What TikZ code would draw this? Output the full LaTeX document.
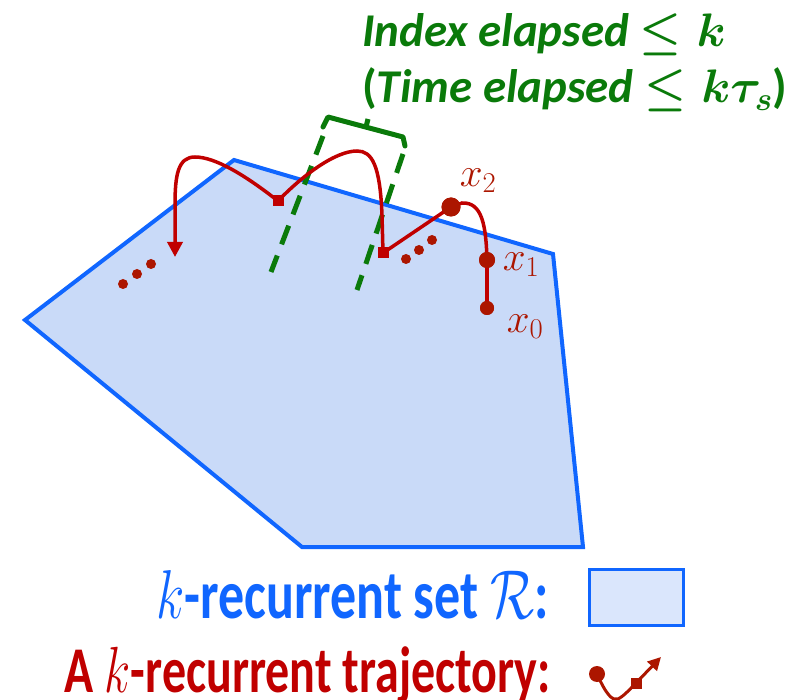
\RequirePackage{fix-cm}
\documentclass[tikz,border=0pt]{standalone}
\usepackage{amsmath,amssymb}
\usepackage{graphicx}
\usepackage{fontspec}
\setmainfont{Carlito}
\usetikzlibrary{arrows.meta}
\definecolor{polyfill}{RGB}{201,218,248}
\definecolor{legfill}{RGB}{218,230,252}
\definecolor{polyblue}{RGB}{16,102,255}
\definecolor{trajred}{RGB}{192,0,0}
\definecolor{dotred}{RGB}{172,22,0}
\definecolor{grn}{RGB}{10,122,10}
\begin{document}
\begin{tikzpicture}[x=1pt,y=-1pt,
  region/.style={draw=polyblue,fill=polyfill,line width=4pt,line join=miter},
  traj/.style={draw=trajred,line width=3.5pt},
  dotnode/.style={circle,fill=dotred,inner sep=0pt},
  sqnode/.style={rectangle,fill=trajred,inner sep=0pt,minimum size=11pt},
  lbl/.style={text=dotred,font=\fontsize{41}{46}\selectfont},
  grline/.style={draw=grn,line width=5pt},
  grdash/.style={draw=grn,line width=5pt,dash pattern=on 20pt off 12pt},
  ttl/.style={text=grn,font=\fontsize{47}{56}\selectfont\bfseries\itshape,anchor=base west,inner sep=0pt},
  leg/.style={font=\bfseries,anchor=base east,inner sep=0pt}]
\path[use as bounding box] (0,0) rectangle (795,700);

% region
\draw[region] (234,160) -- (553,254) -- (583,547) -- (302,547) -- (25,320) -- cycle;

% green bracket and dashed lines
\draw[grline,line cap=round,line join=round] (323,127) -- (328,117) -- (403,137) -- (405,146);
\draw[grline] (366,127) -- (368,119);
\coordinate (la) at (323,136);
\coordinate (lb) at (271,272);
\coordinate (ra) at (403,154);
\coordinate (rb) at (357,290);
\draw[grdash] (la) -- (lb);
\draw[grdash] (ra) -- (rb);

% trajectory nodes
\node[dotnode,minimum size=14pt] (p0) at (487,308) {};
\node[dotnode,minimum size=16pt] (p1) at (487,260) {};
\node[dotnode,minimum size=19pt] (p2) at (451,207) {};
\node[sqnode] (s2) at (383,253) {};
\node[sqnode] (s1) at (278,201) {};
\coordinate (tip) at (175,257);

\draw[traj] (p0.center) -- (p1.center);
\draw[traj] (p1.center) .. controls (486,225) and (482,202) .. (462,203) -- (p2.center);
\draw[traj] (p2.center) -- (s2.center);
\draw[traj] (s2.center) -- (382,215) .. controls (380,165) and (372,151) .. (357,151) .. controls (335,151) and (302,176) .. (s1.center);
\draw[traj,-{Triangle[length=15pt,width=15pt]}] (s1.center) .. controls (245,175) and (215,157) .. (195,157) .. controls (178,157) and (175,175) .. (175,205) -- (tip);

% redraw nodes on top
\node[dotnode,minimum size=14pt] at (p0) {};
\node[dotnode,minimum size=16pt] at (p1) {};
\node[dotnode,minimum size=19pt] at (p2) {};
\node[sqnode] at (s2) {};
\node[sqnode] at (s1) {};

% ellipses
\fill[dotred] (123,284) circle (5) (137,274) circle (5) (151,264) circle (5);
\fill[dotred] (406,259) circle (5) (419,250) circle (5) (432,240) circle (5);

% labels
\node[lbl] (l2) at (478,181) {$x_2$};
\node[lbl] (l1) at (521,265) {$x_1$};
\node[lbl] (l0) at (525,327) {$x_0$};

% title
\node[ttl] (t1) at (362,47) {Index elapsed $\boldsymbol{\leq k}$};
\node[ttl] (t2) at (362,103) {\textup{(}Time elapsed $\boldsymbol{\leq k\tau_{s}}$\textup{)}};

% legend
\node[leg,text=polyblue,font=\fontsize{52}{58}\selectfont\bfseries] (lg1) at (549,618) {\scalebox{1}[1.33]{$k$-recurrent set $\mathcal{R}$:}};
\node[draw=polyblue,line width=3pt,fill=legfill,minimum width=94pt,minimum height=56pt,inner sep=0pt] (box) at (636,597) {};
\node[leg,text=trajred,font=\fontsize{48}{54}\selectfont\bfseries] (lg2) at (551,692) {\scalebox{1}[1.36]{A $k$-recurrent trajectory:}};

% legend icon
\node[dotnode,minimum size=16pt] (ic0) at (597,674) {};
\node[rectangle,fill=dotred,inner sep=0pt,minimum size=11pt] (ic1) at (636,683) {};
\coordinate (ictip) at (661,657);
\draw[draw=dotred,line width=3pt] (ic0.center) .. controls (606,694) and (612,701) .. (618,699) .. controls (624,696) and (630,689) .. (ic1.center);
\draw[draw=dotred,line width=3pt,-{Triangle[length=13pt,width=13pt]}] (ic1.center) -- (ictip);
\end{tikzpicture}
\end{document}
